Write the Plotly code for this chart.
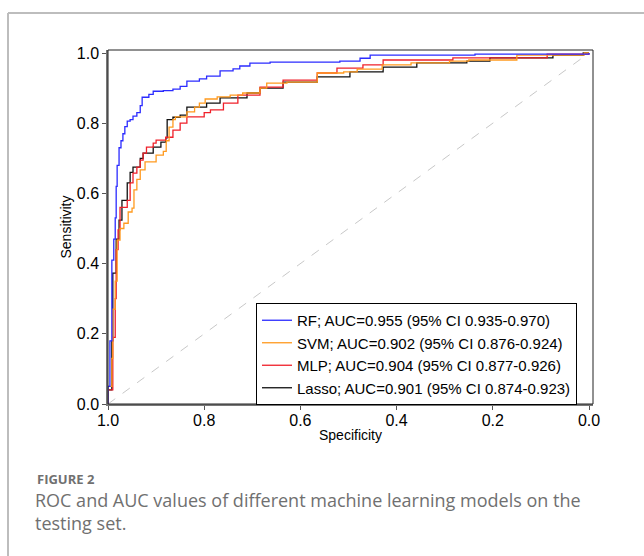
import plotly.graph_objects as go

# ---------------- data (specificity, sensitivity) ----------------
rf_spec = [1.0, 1.0, 0.996, 0.992, 0.988, 0.985, 0.983, 0.981, 0.977, 0.973, 0.969, 0.965, 0.96, 0.954,
           0.948, 0.94, 0.933, 0.929, 0.915, 0.906, 0.885, 0.865, 0.85, 0.836, 0.81, 0.795, 0.767, 0.74,
           0.726, 0.705, 0.663, 0.6, 0.518, 0.476, 0.455, 0.237, 0.0]
rf_sens = [0.0, 0.05, 0.18, 0.41, 0.47, 0.53, 0.62, 0.68, 0.73, 0.75, 0.77, 0.79, 0.806, 0.81,
           0.82, 0.83, 0.85, 0.874, 0.882, 0.891, 0.893, 0.897, 0.905, 0.92, 0.926, 0.934, 0.949, 0.955,
           0.963, 0.971, 0.974, 0.974, 0.977, 0.985, 0.994, 0.997, 1.0]

svm_spec = [1.0, 1.0, 0.992, 0.99, 0.985, 0.981, 0.975, 0.967, 0.958, 0.95, 0.946, 0.94, 0.933, 0.923,
            0.9, 0.885, 0.879, 0.873, 0.865, 0.86, 0.836, 0.82, 0.81, 0.798, 0.773, 0.746, 0.72, 0.684,
            0.67, 0.628, 0.565, 0.51, 0.482, 0.43, 0.37, 0.29, 0.25, 0.15, 0.01, 0.0]
svm_sens = [0.0, 0.05, 0.13, 0.27, 0.35, 0.467, 0.5, 0.515, 0.547, 0.558, 0.61, 0.64, 0.667, 0.69,
            0.709, 0.72, 0.75, 0.789, 0.81, 0.818, 0.832, 0.846, 0.857, 0.869, 0.875, 0.88, 0.886, 0.9,
            0.914, 0.917, 0.943, 0.946, 0.954, 0.966, 0.972, 0.977, 0.98, 0.994, 1.0, 1.0]

mlp_spec = [1.0, 1.0, 0.99, 0.985, 0.983, 0.979, 0.975, 0.96, 0.954, 0.948, 0.94, 0.933, 0.927, 0.92,
            0.906, 0.9, 0.88, 0.865, 0.85, 0.836, 0.8, 0.787, 0.76, 0.73, 0.684, 0.636, 0.565, 0.524,
            0.47, 0.428, 0.283, 0.087, 0.0]
mlp_sens = [0.0, 0.04, 0.19, 0.3, 0.44, 0.496, 0.56, 0.58, 0.63, 0.658, 0.675, 0.695, 0.715, 0.732,
            0.743, 0.752, 0.76, 0.78, 0.80, 0.818, 0.83, 0.838, 0.857, 0.88, 0.903, 0.923, 0.943, 0.957,
            0.966, 0.98, 0.986, 0.997, 1.0]

lasso_spec = [1.0, 1.0, 0.992, 0.99, 0.983, 0.977, 0.971, 0.96, 0.954, 0.948, 0.933, 0.927, 0.906, 0.89,
              0.88, 0.877, 0.865, 0.85, 0.836, 0.795, 0.767, 0.711, 0.684, 0.636, 0.565, 0.497, 0.428,
              0.358, 0.254, 0.206, 0.075, 0.012, 0.0]
lasso_sens = [0.0, 0.04, 0.18, 0.373, 0.47, 0.524, 0.58, 0.63, 0.66, 0.675, 0.70, 0.715, 0.732, 0.746,
              0.758, 0.81, 0.817, 0.823, 0.846, 0.857, 0.872, 0.886, 0.9, 0.917, 0.932, 0.946, 0.96,
              0.972, 0.977, 0.986, 0.994, 1.0, 1.0]

labels = ["RF; AUC=0.955 (95% CI 0.935-0.970)",
          "SVM; AUC=0.902 (95% CI 0.876-0.924)",
          "MLP; AUC=0.904 (95% CI 0.877-0.926)",
          "Lasso; AUC=0.901 (95% CI 0.874-0.923)"]
colors = ["#2b2bff", "#ff9a1f", "#f0202a", "#111111"]

x_ticks = [1.0, 0.8, 0.6, 0.4, 0.2, 0.0]
y_ticks = [0.0, 0.2, 0.4, 0.6, 0.8, 1.0]
diag = [0.0, 1.0]

caption_title = "FIGURE 2"
caption_text = "ROC and AUC values of different machine learning models on the<br>testing set."

# ---------------- layout geometry ----------------
W, H = 644, 556
L, R, T, B = 108, 51, 50, 152
pw, ph = W - L - R, H - T - B

def px2paper(px, py):
    return (px - L) / pw, (H - B - py) / ph

FONT = "Liberation Sans, Arial, sans-serif"

fig = go.Figure()
fig.add_trace(go.Scatter(x=[1 - d for d in diag], y=diag, mode="lines",
                         line=dict(color="#c8c8c8", width=1, dash="dash"),
                         showlegend=False, hoverinfo="skip"))
series = [(rf_spec, rf_sens), (svm_spec, svm_sens), (mlp_spec, mlp_sens), (lasso_spec, lasso_sens)]
order = [3, 2, 1, 0]
for i in order:
    sx, sy = series[i]
    fig.add_trace(go.Scatter(x=sx, y=sy, mode="lines", name=labels[i],
                             line=dict(color=colors[i], width=1.3, shape="hv"),
                             legendrank=i + 1))

lx, ly = px2paper(256, 303)
fig.update_layout(
    width=W, height=H,
    margin=dict(l=L, r=R, t=T, b=B),
    paper_bgcolor="white", plot_bgcolor="white",
    font=dict(family=FONT, size=15, color="black"),
    showlegend=True,
    legend=dict(x=lx, y=ly, xanchor="left", yanchor="top",
                bordercolor="black", borderwidth=1, bgcolor="white",
                font=dict(family=FONT, size=15, color="black"),
                tracegroupgap=0, itemwidth=30),
)
fig.update_xaxes(range=[1.0, -(593 - 589) / 481], tickvals=x_ticks,
                 ticktext=[f"{v:.1f}" for v in x_ticks],
                 showgrid=False, zeroline=False, showline=True, linecolor="#777777", linewidth=1.5,
                 ticks="outside", ticklen=4, tickcolor="#555555",
                 tickfont=dict(size=16), ticklabelstandoff=-3,
                 title=dict(text="Specificity", font=dict(size=14), standoff=2))
fig.update_yaxes(range=[0.0, (404 - 50) / 351], tickvals=y_ticks,
                 ticktext=[f"{v:.1f}" for v in y_ticks],
                 showgrid=False, zeroline=False, showline=True, linecolor="#777777", linewidth=1.5,
                 ticks="outside", ticklen=4, tickcolor="#555555",
                 tickfont=dict(size=16),
                 title=dict(text="Sensitivity", font=dict(size=14), standoff=2))

# plot box (top/right)
fig.add_shape(type="rect", xref="paper", yref="paper", x0=0, y0=0, x1=1, y1=1,
              line=dict(color="#222222", width=1), layer="above")

# card frame (top and left border)
fx0, fy0 = px2paper(8, 13)
fx1, _ = px2paper(660, 13)
_, fy1 = px2paper(8, 570)
fig.add_shape(type="line", xref="paper", yref="paper", x0=fx0, y0=fy0, x1=fx1, y1=fy0,
              line=dict(color="#bdbdbd", width=2))
fig.add_shape(type="line", xref="paper", yref="paper", x0=fx0, y0=fy0, x1=fx0, y1=fy1,
              line=dict(color="#bdbdbd", width=2))

# caption
cx, cy = px2paper(35, 468)
fig.add_annotation(text=f"<b>{caption_title}</b>", xref="paper", yref="paper", x=cx, y=cy,
                   xanchor="left", yanchor="top", showarrow=False,
                   font=dict(family="Open Sans, sans-serif", size=13, color="#707070"))
cx2, cy2 = px2paper(33, 486)
fig.add_annotation(text=caption_text, xref="paper", yref="paper", x=cx2, y=cy2,
                   xanchor="left", yanchor="top", showarrow=False, align="left",
                   font=dict(family="Open Sans, sans-serif", size=18, color="#707070"))

fig.write_html("out.html")
